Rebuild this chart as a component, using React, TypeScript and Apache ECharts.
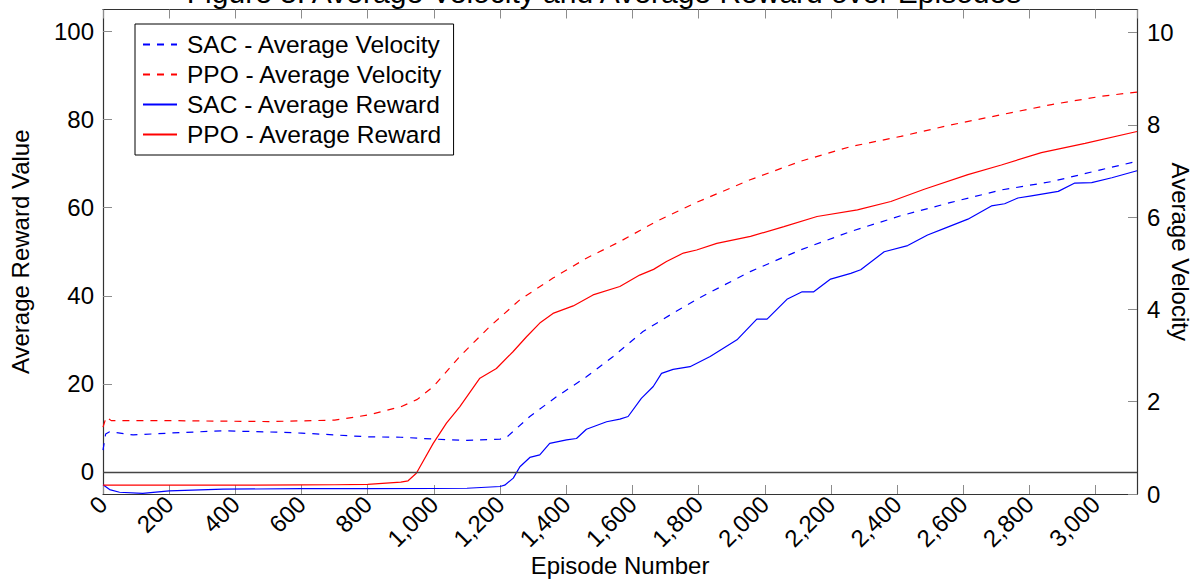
import React, { useEffect, useRef } from "react";
import * as echarts from "echarts";

const TITLE = "Figure 5: Average Velocity and Average Reward over Episodes";
const X_NAME = "Episode Number";
const Y_LEFT_NAME = "Average Reward Value";
const Y_RIGHT_NAME = "Average Velocity";

const LEGEND_NAMES = [
  "SAC - Average Velocity",
  "PPO - Average Velocity",
  "SAC - Average Reward",
  "PPO - Average Reward",
];

const X_MIN = 0;
const X_MAX = 3125;
const X_INTERVAL = 200;
const LEFT_TICKS = [0, 20, 40, 60, 80, 100];
const RIGHT_TICKS = [0, 2, 4, 6, 8, 10];

// [episode, velocity]
const sacVelocity: [number, number][] = [
  [0, 0.95], [8, 1.3], [20, 1.35], [91, 1.28], [200, 1.32], [363, 1.37],
  [523, 1.34], [600, 1.32], [800, 1.24], [900, 1.23], [1000, 1.19],
  [1100, 1.16], [1200, 1.19], [1220, 1.23], [1290, 1.68], [1371, 2.11],
  [1461, 2.54], [1542, 2.98], [1632, 3.52], [1723, 3.92], [1805, 4.26],
  [1956, 4.82], [2108, 5.29], [2260, 5.69], [2411, 6.03], [2563, 6.32],
  [2715, 6.59], [2867, 6.77], [3018, 7.03], [3125, 7.21],
];

const ppoVelocity: [number, number][] = [
  [0, 1.45], [10, 1.67], [25, 1.59], [200, 1.59], [500, 1.57], [700, 1.6],
  [800, 1.71], [900, 1.89], [950, 2.05], [1000, 2.34], [1078, 2.98],
  [1169, 3.63], [1260, 4.21], [1360, 4.68], [1461, 5.11], [1562, 5.47],
  [1673, 5.91], [1794, 6.32], [1956, 6.81], [2108, 7.21], [2260, 7.53],
  [2411, 7.75], [2563, 8.0], [2715, 8.22], [2867, 8.44], [3018, 8.62],
  [3125, 8.71],
];

// [episode, reward]
const sacReward: [number, number][] = [
  [0, -2.9], [20, -4.0], [50, -4.6], [120, -4.85], [200, -4.3], [363, -3.9],
  [600, -3.8], [800, -3.8], [1000, -3.75], [1100, -3.7], [1200, -3.3],
  [1214, -3.0], [1240, -1.4], [1260, 1.2], [1290, 3.3], [1320, 3.9],
  [1350, 6.5], [1401, 7.3], [1431, 7.6], [1461, 9.7], [1522, 11.4],
  [1562, 12.0], [1587, 12.6], [1627, 16.7], [1663, 19.4], [1688, 22.4],
  [1723, 23.3], [1774, 23.9], [1835, 26.2], [1916, 30.0], [1976, 34.7],
  [2007, 34.7], [2067, 39.2], [2113, 40.9], [2148, 40.9], [2199, 43.8],
  [2260, 45.1], [2290, 45.9], [2361, 50.0], [2432, 51.4], [2492, 53.8],
  [2543, 55.3], [2614, 57.4], [2685, 60.4], [2725, 60.9], [2765, 62.2],
  [2806, 62.7], [2887, 63.7], [2937, 65.6], [2988, 65.7], [3049, 66.8],
  [3125, 68.4],
];

const ppoReward: [number, number][] = [
  [0, -3.0], [200, -3.0], [400, -3.0], [600, -2.95], [700, -2.9],
  [800, -2.8], [900, -2.3], [922, -2.0], [947, -0.3], [998, 6.5],
  [1038, 11.1], [1078, 14.8], [1139, 21.3], [1189, 23.5], [1239, 27.3],
  [1280, 30.7], [1320, 33.8], [1360, 36.0], [1421, 37.7], [1481, 40.2],
  [1562, 42.1], [1622, 44.7], [1664, 46.0], [1703, 47.8], [1754, 49.7],
  [1794, 50.4], [1855, 51.9], [1957, 53.5], [2058, 55.7], [2158, 58.0],
  [2280, 59.5], [2381, 61.4], [2482, 64.2], [2614, 67.5], [2715, 69.7],
  [2836, 72.5], [2968, 74.6], [3125, 77.3],
];

const FONT = '"Liberation Sans", Arial, Helvetica, sans-serif';
const BLUE = "#0000ff";
const RED = "#ff0000";
const FRAME = "#333333";
const TICK = "#8c8c8c";

export default function App() {
  const ref = useRef<HTMLDivElement>(null);

  useEffect(() => {
    if (!ref.current) return;
    const chart = echarts.init(ref.current, undefined, { renderer: "svg" });
    const dashed = [7, 7];
    const option: any = {
      animation: false,
      backgroundColor: "#ffffff",
      textStyle: { fontFamily: FONT, color: "#000" },
      graphic: [
        {
          type: "text",
          x: 604,
          y: -7.5,
          silent: true,
          style: {
            text: TITLE,
            fontSize: 30,
            fontFamily: FONT,
            fill: "#000",
            align: "center",
            verticalAlign: "middle",
          },
        },
      ],
      grid: {
        left: 103,
        right: 62,
        top: 9.5,
        bottom: 86,
        containLabel: false,
        outerBoundsMode: "none",
      },
      legend: {
        orient: "vertical",
        left: 135,
        top: 24,
        data: LEGEND_NAMES,
        itemWidth: 34,
        itemHeight: 14,
        itemGap: 5,
        padding: [8, 11, 8, 7],
        backgroundColor: "#ffffff",
        borderColor: "#000000",
        borderWidth: 1,
        borderRadius: 0,
        itemStyle: { color: "rgba(0,0,0,0)", borderColor: "rgba(0,0,0,0)", borderWidth: 0 },
        textStyle: { fontSize: 24.5, fontFamily: FONT, color: "#000", padding: [0, 0, 0, 5] },
      },
      xAxis: [
        {
          type: "value",
          position: "bottom",
          min: X_MIN,
          max: X_MAX,
          interval: X_INTERVAL,
          name: X_NAME,
          nameLocation: "middle",
          nameGap: 59,
          nameMoveOverlap: false,
          nameTextStyle: { fontSize: 24, fontFamily: FONT, color: "#000" },
          axisLine: { show: true, onZero: false, lineStyle: { color: FRAME, width: 1.2 } },
          axisTick: { show: true, inside: true, length: 9, lineStyle: { color: TICK, width: 1 } },
          axisLabel: {
            rotate: 45,
            margin: 6,
            fontSize: 24,
            fontFamily: FONT,
            color: "#000",
            showMaxLabel: false,
            formatter: (v: number) => v.toLocaleString("en-US"),
          },
          splitLine: { show: false },
        },
        {
          type: "value",
          position: "top",
          min: X_MIN,
          max: X_MAX,
          interval: X_INTERVAL,
          axisLine: { show: true, onZero: false, lineStyle: { color: FRAME, width: 1.2 } },
          axisTick: { show: true, inside: true, length: 9, lineStyle: { color: TICK, width: 1 } },
          axisLabel: { show: false },
          splitLine: { show: false },
        },
      ],
      yAxis: [
        {
          type: "value",
          position: "left",
          min: -5,
          max: 105,
          name: Y_LEFT_NAME,
          nameLocation: "middle",
          nameGap: 71,
          nameMoveOverlap: false,
          nameRotate: 90,
          nameTextStyle: { fontSize: 24, fontFamily: FONT, color: "#000" },
          axisLine: { show: true, onZero: false, lineStyle: { color: FRAME, width: 1.2 } },
          axisTick: { show: true, inside: true, length: 9, customValues: LEFT_TICKS, lineStyle: { color: TICK, width: 1 } },
          axisLabel: { customValues: LEFT_TICKS, margin: 9, fontSize: 24, fontFamily: FONT, color: "#000" },
          splitLine: { show: false },
        },
        {
          type: "value",
          position: "right",
          min: 0,
          max: 10.5,
          name: Y_RIGHT_NAME,
          nameLocation: "middle",
          nameGap: 31,
          nameMoveOverlap: false,
          nameRotate: -90,
          nameTextStyle: { fontSize: 24, fontFamily: FONT, color: "#000" },
          axisLine: { show: true, onZero: false, lineStyle: { color: FRAME, width: 1.2 } },
          axisTick: { show: true, inside: true, length: 9, customValues: RIGHT_TICKS, lineStyle: { color: TICK, width: 1 } },
          axisLabel: { customValues: RIGHT_TICKS, margin: 10, fontSize: 24, fontFamily: FONT, color: "#000" },
          splitLine: { show: false },
        },
      ],
      series: [
        {
          name: LEGEND_NAMES[0],
          type: "line",
          yAxisIndex: 1,
          data: sacVelocity,
          symbol: "none",
          lineStyle: { color: BLUE, width: 1.2, type: dashed },
          itemStyle: { color: BLUE },
        },
        {
          name: LEGEND_NAMES[1],
          type: "line",
          yAxisIndex: 1,
          data: ppoVelocity,
          symbol: "none",
          lineStyle: { color: RED, width: 1.2, type: dashed },
          itemStyle: { color: RED },
        },
        {
          name: LEGEND_NAMES[2],
          type: "line",
          yAxisIndex: 0,
          data: sacReward,
          symbol: "none",
          lineStyle: { color: BLUE, width: 1.2 },
          itemStyle: { color: BLUE },
          markLine: {
            silent: true,
            symbol: ["none", "none"],
            label: { show: false },
            lineStyle: { color: "#444444", width: 1.3, type: "solid" },
            data: [{ yAxis: 0 }],
          },
        },
        {
          name: LEGEND_NAMES[3],
          type: "line",
          yAxisIndex: 0,
          data: ppoReward,
          symbol: "none",
          lineStyle: { color: RED, width: 1.2 },
          itemStyle: { color: RED },
        },
      ],
    };
    chart.setOption(option);
    return () => chart.dispose();
  }, []);

  return (
    <div
      ref={ref}
      style={{ position: "absolute", left: 0, top: 0, width: 1199, height: 580 }}
    />
  );
}
